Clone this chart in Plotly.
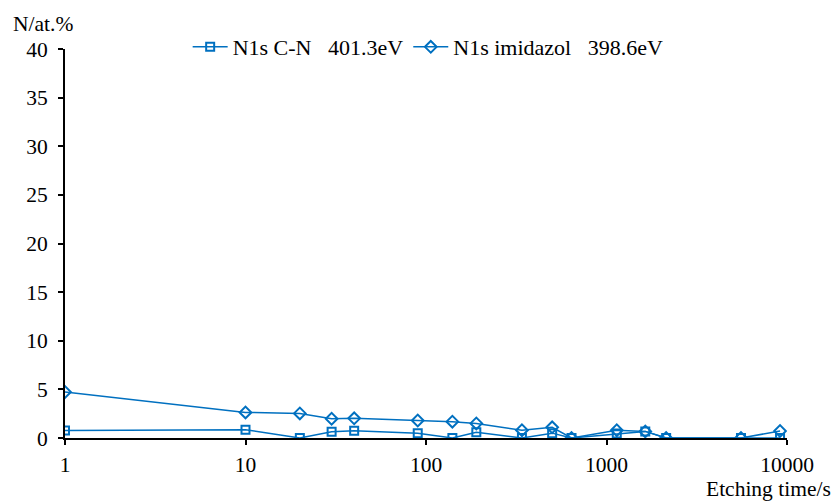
import plotly.graph_objects as go

etch_time = [1, 10, 20, 30, 40, 90, 140, 190, 340, 500, 640, 1140, 1640, 2140, 5560, 9150]
cn_401 = [0.78, 0.85, 0.0, 0.65, 0.75, 0.5, 0.0, 0.58, 0.0, 0.5, 0.0, 0.45, 0.68, 0.0, 0.0, 0.0]
imidazol_398 = [4.73, 2.63, 2.53, 1.98, 2.02, 1.8, 1.68, 1.5, 0.8, 1.1, 0.0, 0.8, 0.68, 0.0, 0.0, 0.72]

name_cn = "N1s C-N\u00a0\u00a0\u00a0401.3eV"
name_im = "N1s imidazol\u00a0\u00a0\u00a0398.6eV"
x_ticks = [1, 10, 100, 1000, 10000]
y_ticks = [0, 5, 10, 15, 20, 25, 30, 35, 40]

color = "#0070C0"
FONT = "Liberation Serif, Times New Roman, serif"
FS = 21.5

fig = go.Figure()
fig.add_trace(go.Scatter(
    x=etch_time, y=cn_401, name=name_cn, mode="lines+markers",
    line=dict(color=color, width=1.5),
    marker=dict(symbol="square-open", size=8, color=color, line=dict(width=2, color=color)),
))
fig.add_trace(go.Scatter(
    x=etch_time, y=imidazol_398, name=name_im, mode="lines+markers",
    line=dict(color=color, width=1.5),
    marker=dict(symbol="diamond-open", size=9, color=color, line=dict(width=2, color=color)),
))

fig.update_layout(
    width=834, height=502,
    margin=dict(l=65, r=47, t=49, b=64, autoexpand=False),
    paper_bgcolor="white", plot_bgcolor="white",
    font=dict(family=FONT, size=FS, color="black"),
    showlegend=True,
    legend=dict(orientation="h", x=0.503, xanchor="center", y=1.005, yanchor="middle",
                font=dict(family=FONT, size=22), bgcolor="rgba(0,0,0,0)",
                itemwidth=35, tracegroupgap=0),
    xaxis=dict(type="log", range=[0, 4], tickvals=x_ticks, ticktext=[str(v) for v in x_ticks],
               showline=True, linecolor="black", linewidth=2, mirror=False,
               ticks="outside", ticklen=5, tickwidth=2, tickcolor="black",
               ticklabelstandoff=1,
               showgrid=False, zeroline=False, tickfont=dict(size=FS)),
    yaxis=dict(range=[0, 40], tickvals=y_ticks,
               showline=True, linecolor="black", linewidth=2,
               ticks="outside", ticklen=5, tickwidth=2, tickcolor="black",
               ticklabelstandoff=6,
               showgrid=False, zeroline=False, tickfont=dict(size=FS)),
    annotations=[
        dict(text="Etching time/s", xref="paper", yref="paper", x=1.064, y=-0.131,
             xanchor="right", yanchor="middle", showarrow=False, font=dict(family=FONT, size=FS)),
        dict(text="N/at.%", xref="paper", yref="paper", x=-0.075, y=1.064,
             xanchor="left", yanchor="middle", showarrow=False, font=dict(family=FONT, size=FS)),
    ],
)

fig.write_html("out.html")
